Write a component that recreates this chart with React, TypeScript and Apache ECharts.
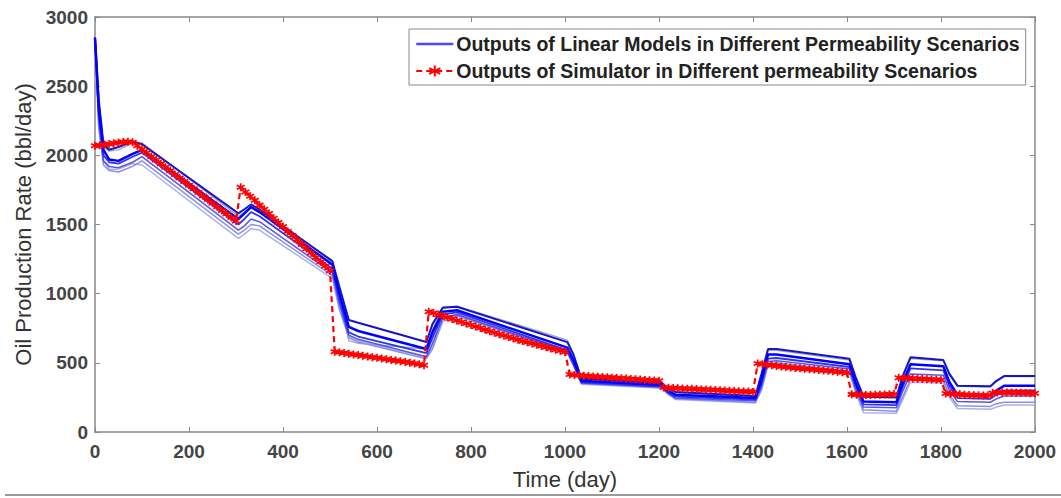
import React, { useEffect, useRef } from "react";
import * as echarts from "echarts";

// Simulator output sampled every 10 days (0..2000)
const simDays: number[] = Array.from({ length: 201 }, (_, i) => i * 10);
const simRate: number[] = [
  // 0..300
  2070, 2072, 2078, 2082, 2088, 2092, 2096, 2098, 2095, 2070, 2044, 2018, 1992, 1966, 1940, 1914,
  1888, 1862, 1836, 1810, 1784, 1758, 1732, 1706, 1680, 1654, 1628, 1602, 1576, 1550, 1525,
  // 310..500
  1770, 1735, 1705, 1675, 1640, 1610, 1580, 1545, 1515, 1485, 1450, 1420, 1390, 1355, 1325, 1295,
  1260, 1230, 1200, 1165,
  // 510..700
  580, 576, 571, 566, 561, 556, 551, 546, 541, 536, 531, 526, 521, 516, 511, 506, 500, 495, 489, 482,
  // 710..1000
  870, 860, 850, 839, 828, 817, 806, 795, 784, 773, 762, 751, 740, 729, 718, 707, 697, 687, 677, 667,
  657, 648, 639, 630, 621, 612, 603, 595, 587, 578,
  // 1010..1200
  415, 412, 410, 407, 405, 402, 400, 397, 395, 393, 390, 388, 386, 383, 381, 379, 376, 374, 372, 370,
  // 1210..1400
  322, 320, 318, 317, 315, 313, 312, 310, 308, 307, 305, 303, 302, 300, 298, 297, 295, 293, 292, 290,
  // 1410..1600
  495, 490, 486, 482, 478, 474, 470, 467, 463, 460, 457, 454, 451, 448, 445, 442, 439, 436, 432, 428,
  // 1610..1700
  272, 270, 269, 268, 268, 269, 270, 271, 272, 274,
  // 1710..1800
  392, 390, 388, 387, 385, 383, 382, 380, 378, 376,
  // 1810..1900
  278, 276, 274, 272, 270, 268, 266, 265, 264, 263,
  // 1910..2000
  282, 285, 286, 286, 285, 284, 283, 282, 281, 280,
];

// Linear-model outputs, key days shared by all scenarios
const modelDays: number[] = [
  0, 8, 18, 30, 50, 80, 100, 305, 318, 332, 350, 505, 520, 540, 560, 705, 718, 740, 770, 1005, 1018,
  1035, 1205, 1218, 1235, 1405, 1418, 1432, 1450, 1605, 1618, 1635, 1705, 1718, 1735, 1805, 1818,
  1835, 1905, 1918, 1935, 2000,
];
const modelA: number[] = [
  2850, 2400, 2080, 2040, 2060, 2100, 2080, 1580, 1610, 1645, 1610, 1235, 1050, 810, 790, 650, 780,
  900, 905, 650, 560, 385, 355, 320, 290, 260, 420, 600, 600, 530, 400, 255, 250, 400, 540, 520, 420,
  335, 330, 370, 405, 405,
];
const modelB: number[] = [
  2850, 2350, 2040, 1970, 1960, 2010, 2040, 1540, 1580, 1625, 1590, 1210, 1000, 760, 730, 600, 720,
  870, 880, 610, 520, 370, 340, 300, 270, 245, 380, 560, 560, 490, 360, 220, 215, 350, 490, 475, 360,
  270, 265, 300, 335, 335,
];
const modelC: number[] = [
  2850, 2300, 2000, 1950, 1940, 1990, 2020, 1500, 1540, 1590, 1560, 1180, 960, 720, 690, 570, 680,
  850, 865, 590, 500, 360, 330, 290, 255, 235, 350, 530, 535, 470, 340, 200, 195, 320, 460, 445, 330,
  245, 240, 270, 300, 300,
];
const modelD: number[] = [
  2850, 2250, 1960, 1920, 1910, 1950, 1990, 1460, 1490, 1540, 1520, 1150, 930, 700, 670, 545, 640,
  830, 850, 580, 490, 355, 325, 285, 245, 225, 330, 510, 515, 455, 320, 180, 175, 290, 420, 410, 300,
  220, 215, 240, 260, 260,
];
const modelE: number[] = [
  2850, 2200, 1930, 1890, 1880, 1920, 1960, 1430, 1460, 1500, 1490, 1130, 900, 680, 650, 530, 600,
  800, 840, 570, 480, 350, 320, 280, 240, 215, 310, 490, 500, 440, 300, 160, 150, 250, 380, 375, 270,
  190, 185, 205, 215, 215,
];
const modelF: number[] = [
  2850, 2200, 1960, 1900, 1900, 1940, 1930, 1400, 1430, 1470, 1460, 1110, 880, 690, 660, 540, 620,
  820, 850, 575, 485, 345, 318, 275, 235, 210, 300, 480, 490, 430, 290, 140, 135, 230, 360, 355, 250,
  170, 165, 180, 195, 195,
];
const modelG: number[] = [
  2850, 2350, 2060, 2030, 2040, 2090, 2090, 1560, 1590, 1630, 1600, 1240, 1000, 660, 640, 600, 740,
  890, 910, 665, 560, 390, 360, 320, 285, 255, 410, 590, 590, 520, 390, 260, 255, 390, 530, 515, 410,
  330, 325, 365, 400, 400,
];

const xTicks: number[] = [0, 200, 400, 600, 800, 1000, 1200, 1400, 1600, 1800, 2000];
const yTicks: number[] = [0, 500, 1000, 1500, 2000, 2500, 3000];

const LIN_NAME = "Outputs of Linear Models in Different Permeability Scenarios";
const SIM_NAME = "Outputs of Simulator in Different permeability Scenarios";
const FONT = "'Liberation Sans', Arial, sans-serif";
const STAR = "path://M5,0L5,10M0.67,2.5L9.33,7.5M0.67,7.5L9.33,2.5";

const pair = (xs: number[], ys: number[]) => xs.map((x, i) => [x, ys[i]]);

export default function App() {
  const ref = useRef<HTMLDivElement>(null);
  useEffect(() => {
    document.body.style.margin = "0";
    const chart = echarts.init(ref.current!, undefined, { renderer: "svg" });
    const blue = (name: string, ys: number[], color: string, width: number) => ({
      name,
      type: "line",
      data: pair(modelDays, ys),
      symbol: "none",
      lineStyle: { color, width },
      itemStyle: { color },
      z: 2,
    });
    const tickLabel = { fontFamily: FONT, fontWeight: "bold", fontSize: 19, color: "#444" };
    chart.setOption({
      animation: false,
      backgroundColor: "#ffffff",
      grid: { left: 95, right: 26, top: 17, bottom: 66 },
      legend: {
        data: [
          {
            name: LIN_NAME,
            itemStyle: { color: "rgba(0,0,0,0)", borderColor: "rgba(0,0,0,0)", borderWidth: 0, opacity: 0 },
            lineStyle: { color: "#4a4aff", width: 2.5, opacity: 1 },
          },
          { name: SIM_NAME },
        ],
        orient: "vertical",
        left: 409,
        top: 29,
        itemWidth: 37,
        itemHeight: 14,
        itemGap: 7,
        padding: [5, 6, 4, 6],
        backgroundColor: "#ffffff",
        borderColor: "#888",
        borderWidth: 1,
        borderRadius: 0,
        textStyle: { fontFamily: FONT, fontWeight: "bold", fontSize: 19.5, color: "#222", padding: [0, 0, 0, -2] },
      },
      xAxis: [
        {
          type: "value",
          min: 0,
          max: 2000,
          interval: 200,
          name: "Time (day)",
          nameLocation: "middle",
          nameGap: 36,
          nameTextStyle: { fontFamily: FONT, fontSize: 22, color: "#333" },
          axisLine: { onZero: false, lineStyle: { color: "#888", width: 1.5 } },
          axisTick: { inside: true, length: 5, lineStyle: { color: "#888" } },
          axisLabel: { ...tickLabel, margin: 10, formatter: (v: number) => (xTicks.includes(v) ? String(v) : "") },
          splitLine: { show: false },
        },
        {
          type: "value",
          position: "top",
          min: 0,
          max: 2000,
          interval: 200,
          axisLine: { onZero: false, lineStyle: { color: "#888", width: 1.5 } },
          axisTick: { inside: true, length: 5, lineStyle: { color: "#888" } },
          axisLabel: { show: false },
          splitLine: { show: false },
        },
      ],
      yAxis: [
        {
          type: "value",
          min: 0,
          max: 3000,
          interval: 500,
          name: "Oil Production Rate (bbl/day)",
          nameLocation: "middle",
          nameGap: 58,
          nameTextStyle: { fontFamily: FONT, fontSize: 22, color: "#333" },
          axisLine: { show: true, onZero: false, lineStyle: { color: "#888", width: 1.5 } },
          axisTick: { show: true, inside: true, length: 5, lineStyle: { color: "#888" } },
          axisLabel: { ...tickLabel, margin: 7, formatter: (v: number) => (yTicks.includes(v) ? String(v) : "") },
          splitLine: { show: false },
        },
        {
          type: "value",
          position: "right",
          min: 0,
          max: 3000,
          interval: 500,
          axisLine: { show: true, onZero: false, lineStyle: { color: "#888", width: 1.5 } },
          axisTick: { show: true, inside: true, length: 5, lineStyle: { color: "#888" } },
          axisLabel: { show: false },
          splitLine: { show: false },
        },
      ],
      series: [
        blue("lin-f", modelF, "rgba(160,170,235,0.9)", 1.5),
        blue("lin-e", modelE, "rgba(130,130,230,0.9)", 1.5),
        blue("lin-g", modelG, "rgba(150,155,185,0.9)", 1.3),
        blue("lin-d", modelD, "rgba(70,70,225,0.9)", 1.5),
        blue("lin-c", modelC, "rgba(40,40,235,0.95)", 1.8),
        blue("lin-a", modelA, "#1515c8", 2),
        blue(LIN_NAME, modelB, "#0000ff", 2.5),
        {
          name: SIM_NAME,
          type: "line",
          data: pair(simDays, simRate),
          symbol: STAR,
          symbolSize: 8,
          showSymbol: true,
          lineStyle: { color: "#ff0000", width: 2.2, type: [6, 4] },
          itemStyle: { color: "#ff0000", borderColor: "#ff0000", borderWidth: 1.7 },
          z: 3,
        },
      ],
      graphic: [
        {
          type: "line",
          shape: { x1: 5, y1: 495, x2: 1061, y2: 495 },
          style: { stroke: "#9a9a9a", lineWidth: 2 },
        },
      ],
    });
    return () => chart.dispose();
  }, []);
  return <div ref={ref} style={{ position: "fixed", left: 0, top: 0, width: 1061, height: 498 }} />;
}
